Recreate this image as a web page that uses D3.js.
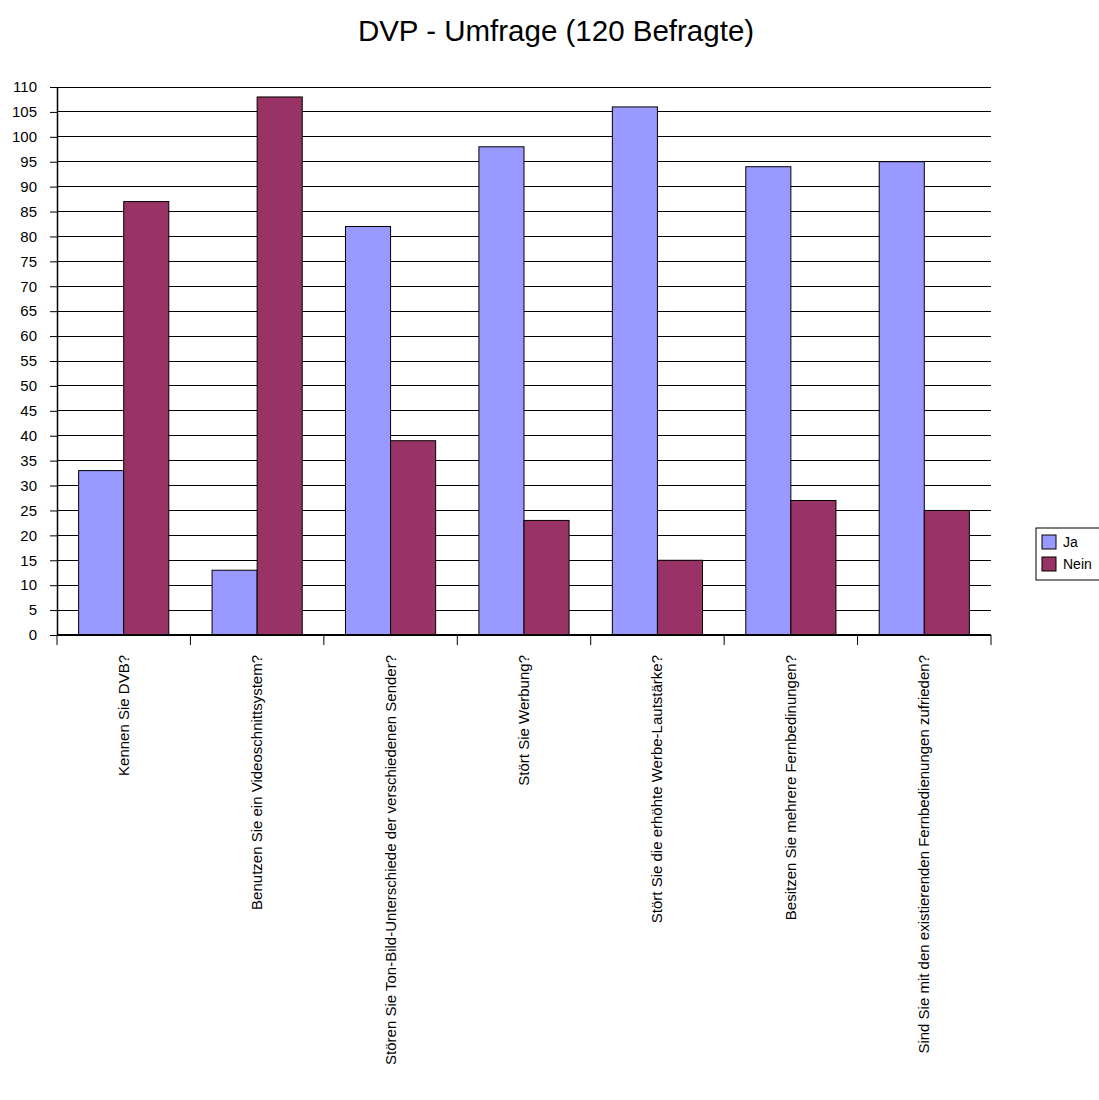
<!DOCTYPE html>
<html>
<head>
<meta charset="utf-8">
<script src="https://cdn.jsdelivr.net/npm/d3@7"></script>
<style>
  html, body { margin: 0; padding: 0; background: #fff; }
  svg { display: block; font-family: "Liberation Sans", Arial, sans-serif; }
</style>
</head>
<body>
<svg id="chart" width="1099" height="1100"></svg>
<script>
// Survey questions (x categories)
const questions = [
  "Kennen Sie DVB?",
  "Benutzen Sie ein Videoschnittsystem?",
  "Stören Sie Ton-Bild-Unterschiede der verschiedenen Sender?",
  "Stört Sie Werbung?",
  "Stört Sie die erhöhte Werbe-Lautstärke?",
  "Besitzen Sie mehrere Fernbedinungen?",
  "Sind Sie mit den existierenden Fernbedienungen zufrieden?"
];
const seriesNames = ["Ja", "Nein"];
const jaValues   = [33, 13, 82, 98, 106, 94, 95];
const neinValues = [87, 108, 39, 23, 15, 27, 25];
const yTicks = d3.range(0, 111, 5);
const seriesColors = ["#9999FF", "#993366"];

const svg = d3.select("#chart");
const plot = { left: 57, right: 991, top: 87, bottom: 635 };

svg.append("text")
  .attr("x", 556).attr("y", 41)
  .attr("text-anchor", "middle")
  .style("font-size", "29.5px")
  .text("DVP - Umfrage (120 Befragte)");

const x = d3.scaleBand().domain(questions).range([plot.left, plot.right]).paddingInner(0).paddingOuter(0);
const inner = d3.scaleBand().domain(seriesNames).range([0, x.bandwidth()]).paddingInner(0).paddingOuter(0.48);
const y = d3.scaleLinear().domain([0, 110]).range([plot.bottom, plot.top]);

// horizontal grid
svg.append("g").selectAll("line").data(yTicks.filter(d => d > 0)).join("line")
  .attr("x1", plot.left).attr("x2", plot.right)
  .attr("y1", d => y(d)).attr("y2", d => y(d))
  .attr("stroke", "#000").attr("stroke-width", 1).attr("shape-rendering", "crispEdges");

// y axis
const yAxis = svg.append("g").attr("transform", `translate(${plot.left},0)`)
  .call(d3.axisLeft(y).tickValues(yTicks).tickSize(7).tickPadding(13).tickSizeOuter(0));
yAxis.select(".domain").attr("stroke", "#000").attr("stroke-width", 1.5);
yAxis.selectAll(".tick line").attr("stroke", "#000");
yAxis.selectAll(".tick text").style("font-size", "15px").attr("fill", "#000")
  .attr("font-family", "Liberation Sans, Arial, sans-serif");

// bars
const rows = questions.map((q, i) => ({ q, values: [jaValues[i], neinValues[i]] }));
const groups = svg.append("g").selectAll("g").data(rows).join("g")
  .attr("transform", d => `translate(${x(d.q)},0)`);
groups.selectAll("rect").data(d => d.values.map((v, j) => ({ name: seriesNames[j], v, j }))).join("rect")
  .attr("x", d => inner(d.name))
  .attr("width", inner.bandwidth())
  .attr("y", d => y(d.v))
  .attr("height", d => y(0) - y(d.v))
  .attr("fill", d => seriesColors[d.j])
  .attr("stroke", "#000").attr("stroke-width", 1);

// x axis
const xAxis = svg.append("g").attr("transform", `translate(0,${plot.bottom})`);
xAxis.append("line").attr("x1", plot.left).attr("x2", plot.right)
  .attr("y1", 0).attr("y2", 0).attr("stroke", "#000").attr("stroke-width", 2);
const tickXs = questions.map(q => x(q)).concat([plot.right]);
xAxis.selectAll("line.tk").data(tickXs).join("line").attr("class", "tk")
  .attr("x1", d => d).attr("x2", d => d).attr("y1", 0).attr("y2", 10)
  .attr("stroke", "#000").attr("stroke-width", 1);
xAxis.selectAll("text").data(questions).join("text")
  .attr("transform", d => `translate(${x(d) + x.bandwidth() / 2 + 5},20) rotate(-90)`)
  .attr("text-anchor", "end")
  .style("font-size", "15px")
  .text(d => d);

// legend
const leg = svg.append("g").attr("transform", "translate(1036,528)");
leg.append("rect").attr("x", 0).attr("y", 0).attr("width", 70).attr("height", 52)
  .attr("fill", "#fff").attr("stroke", "#000").attr("stroke-width", 1);
seriesNames.forEach((n, i) => {
  leg.append("rect").attr("x", 6).attr("y", 7 + i * 22).attr("width", 14).attr("height", 14)
    .attr("fill", seriesColors[i]).attr("stroke", "#000");
  leg.append("text").attr("x", 27).attr("y", 19 + i * 22).style("font-size", "14px").text(n);
});
</script>
</body>
</html>
